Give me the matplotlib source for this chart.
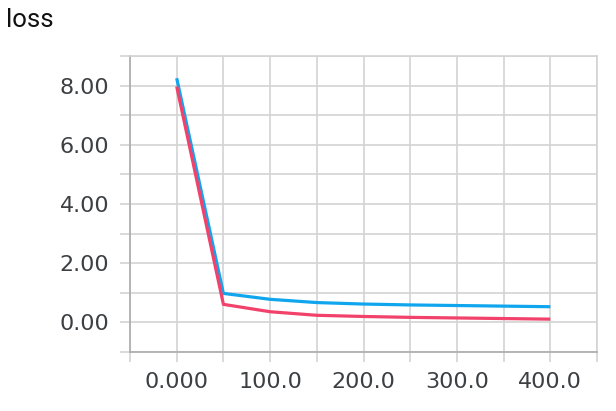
import matplotlib
matplotlib.use("Agg")
from matplotlib import pyplot as plt
from matplotlib.ticker import MultipleLocator

# data
steps = [0, 50, 100, 150, 200, 250, 300, 350, 400]
lossBlue = [8.25, 0.98, 0.78, 0.67, 0.62, 0.59, 0.57, 0.55, 0.53]
lossRed = [7.97, 0.61, 0.36, 0.24, 0.20, 0.17, 0.15, 0.13, 0.11]
xTicks = [0, 100, 200, 300, 400]
xTickLabels = ["0.000", "100.0", "200.0", "300.0", "400.0"]
yTicks = [0, 2, 4, 6, 8]
yTickLabels = ["0.00", "2.00", "4.00", "6.00", "8.00"]

gridColor = "#d3d3d3"
textColor = "#3c4043"

fig = plt.figure(figsize=(6.16, 4.11), dpi=100)
ax = fig.add_axes([130 / 616, 1 - 352 / 411, 467 / 616, 296 / 411])

ax.plot(steps, lossBlue, color="#10a6ee", linewidth=2.3, solid_capstyle="butt", zorder=3)
ax.plot(steps, lossRed, color="#f2416b", linewidth=2.3, solid_capstyle="butt", zorder=4)

ax.set_xlim(-50, 450)
ax.set_ylim(-1, 9)

ax.set_xticks(xTicks)
ax.set_xticklabels(xTickLabels)
ax.set_yticks(yTicks)
ax.set_yticklabels(yTickLabels)
ax.xaxis.set_minor_locator(MultipleLocator(50))
ax.yaxis.set_minor_locator(MultipleLocator(1))

ax.grid(True, which="both", color=gridColor, linewidth=1.2)
ax.tick_params(which="both", length=7, width=1.2, color=gridColor,
               labelsize=16, labelcolor=textColor)
ax.tick_params(axis="y", pad=8)
ax.tick_params(axis="x", pad=7.5)

for side in ["top", "right"]:
    ax.spines[side].set_color(gridColor)
    ax.spines[side].set_linewidth(1.2)
for side in ["left", "bottom"]:
    ax.spines[side].set_color("#b0b0b0")
    ax.spines[side].set_linewidth(1.3)

fig.text(6 / 616, 1 - 20 / 411, "loss", fontsize=18.5, family="Roboto",
         color="#111111", va="center", ha="left")

plt.savefig("out.png", dpi=100)
